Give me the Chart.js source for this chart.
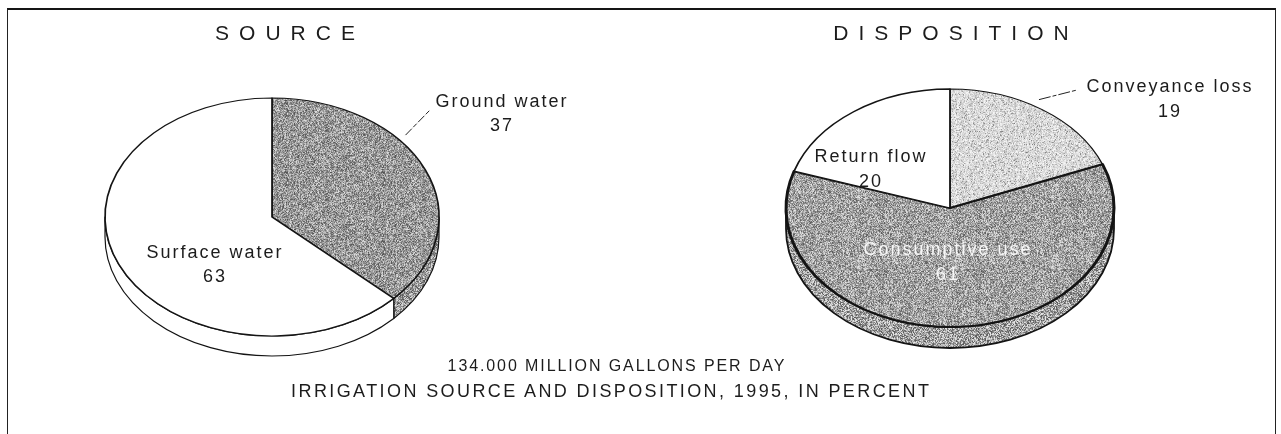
<!DOCTYPE html>
<html>
<head>
<meta charset="utf-8">
<title>Irrigation source and disposition, 1995</title>
<script src="https://cdn.jsdelivr.net/npm/chart.js@4/dist/chart.umd.min.js"></script>
<style>
  html, body { margin: 0; padding: 0; background: #fff; }
  #stage { position: relative; width: 1281px; height: 434px; overflow: hidden; background: #fff; }
  #frame { position: absolute; left: 7px; top: 8px; width: 1267px; height: 520px;
           border-top: 2px solid #151515; border-left: 1.5px solid #222; border-right: 1.5px solid #222; }
  canvas { position: absolute; top: 0; }
  .t { position: absolute; white-space: nowrap; line-height: 1; color: #1c1c1c;
       font-family: "Liberation Sans", Arial, Helvetica, sans-serif;
       transform: translate(-50%, -50%); }
  .title { font-size: 21px; letter-spacing: 10px; padding-left: 10px; }
  .note { font-size: 16px; letter-spacing: 1.9px; padding-left: 1.9px; }
  .caption { font-size: 18px; letter-spacing: 2.4px; padding-left: 2.4px; }
</style>
</head>
<body>
<div id="stage">
  <div id="frame"></div>
  <canvas id="sourceChart" width="640" height="434" style="left:0"></canvas>
  <canvas id="dispositionChart" width="641" height="434" style="left:640px"></canvas>
  <div class="t title" id="titleSource" style="left:285px; top:32px"></div>
  <div class="t title" id="titleDisposition" style="left:951px; top:32px"></div>
  <div class="t note" id="note" style="left:616px; top:366px"></div>
  <div class="t caption" id="caption" style="left:610px; top:391px"></div>
</div>
<script>
// ---- values (percent) ----
const sourceLabels = ['Ground water', 'Surface water'];
const sourceValues = [37, 63];
const dispositionLabels = ['Conveyance loss', 'Consumptive use', 'Return flow'];
const dispositionValues = [19, 61, 20];
const chartTitles = ['SOURCE', 'DISPOSITION'];
const totalNote = '134.000 MILLION GALLONS PER DAY';
const captionText = 'IRRIGATION SOURCE AND DISPOSITION, 1995, IN PERCENT';

document.getElementById('titleSource').textContent = chartTitles[0];
document.getElementById('titleDisposition').textContent = chartTitles[1];
document.getElementById('note').textContent = totalNote;
document.getElementById('caption').textContent = captionText;

// ---- stipple textures (deterministic hash noise) ----
function hash(x, y, s) {
  let h = Math.imul(x, 374761393) + Math.imul(y, 668265263) + Math.imul(s, 2246822519);
  h = Math.imul(h ^ (h >>> 13), 1274126177);
  h ^= h >>> 16;
  return (h >>> 0) / 4294967296;
}
function stipple(seed, mean, spread, darkDots) {
  const size = 97;
  const c = document.createElement('canvas');
  c.width = size; c.height = size;
  const g = c.getContext('2d');
  const img = g.createImageData(size, size);
  for (let y = 0; y < size; y++) {
    for (let x = 0; x < size; x++) {
      const r = hash(x, y, seed);
      let v = mean + (r - 0.5) * spread;
      if (darkDots && hash(x, y, seed + 7) < darkDots) v -= 70;
      v = Math.max(30, Math.min(250, v));
      const i = (y * size + x) * 4;
      img.data[i] = img.data[i + 1] = img.data[i + 2] = v;
      img.data[i + 3] = 255;
    }
  }
  g.putImageData(img, 0, 0);
  return g.createPattern(c, 'repeat');
}
const darkStipple = stipple(3, 154, 150, 0);
const darkStipple2 = stipple(11, 162, 150, 0);
const lightStipple = stipple(5, 222, 60, 0.12);

// ---- tilted pie with side wall ----
const tiltedPie = {
  id: 'tiltedPie',
  beforeDatasetsDraw(chart, args, opts) {
    const ctx = chart.ctx;
    const meta = chart.getDatasetMeta(0);
    const c = meta.data[0].getProps(['x', 'y', 'outerRadius'], true);
    const R = c.outerRadius, k = opts.tilt, d = opts.depth;
    meta.data.forEach((arc) => {
      const p = arc.getProps(['startAngle', 'endAngle'], true);
      const a0 = Math.max(p.startAngle, 0), a1 = Math.min(p.endAngle, Math.PI);
      if (a1 <= a0) return;
      ctx.save();
      ctx.beginPath();
      ctx.ellipse(c.x, c.y, R, R * k, 0, a0, a1);
      ctx.lineTo(c.x + R * Math.cos(a1), c.y + R * k * Math.sin(a1) + d);
      ctx.ellipse(c.x, c.y + d, R, R * k, 0, a1, a0, true);
      ctx.closePath();
      ctx.fillStyle = arc.options.backgroundColor;
      ctx.fill();
      ctx.lineJoin = 'round';
      ctx.lineWidth = opts.wallLine;
      ctx.strokeStyle = '#141414';
      ctx.stroke();
      ctx.restore();
    });
    ctx.save();
    ctx.translate(c.x, c.y);
    ctx.scale(1, k);
    ctx.translate(-c.x, -c.y);
  },
  afterDatasetsDraw(chart) {
    chart.ctx.restore();
  }
};

// ---- slice labels and leader lines ----
const sliceLabels = {
  id: 'sliceLabels',
  afterDraw(chart, args, opts) {
    const ctx = chart.ctx;
    const meta = chart.getDatasetMeta(0);
    const c = meta.data[0].getProps(['x', 'y', 'outerRadius'], true);
    const labels = chart.data.labels;
    const values = chart.data.datasets[0].data;
    ctx.save();
    ctx.font = opts.font;
    ctx.letterSpacing = opts.letterSpacing;
    ctx.textAlign = 'center';
    ctx.textBaseline = 'alphabetic';
    opts.items.forEach((it) => {
      ctx.fillStyle = it.color || '#1c1c1c';
      const base = 0.358 * opts.size;
      ctx.fillText(labels[it.index], it.x, it.y + base);
      ctx.fillText(String(values[it.index]), it.x, it.y + opts.lineGap + base);
      if (it.leader) {
        const arc = meta.data[it.index].getProps(['startAngle', 'endAngle'], true);
        const a = arc.startAngle + it.leader.t * (arc.endAngle - arc.startAngle);
        const r = c.outerRadius * it.leader.r;
        const sx = c.x + r * Math.cos(a);
        const sy = c.y + r * opts.tilt * Math.sin(a);
        ctx.beginPath();
        ctx.setLineDash(it.leader.dash);
        ctx.lineWidth = 1;
        ctx.strokeStyle = '#222';
        ctx.moveTo(sx, sy);
        ctx.lineTo(it.leader.to[0], it.leader.to[1]);
        ctx.stroke();
        ctx.setLineDash([]);
      }
    });
    ctx.restore();
  }
};

Chart.register(tiltedPie, sliceLabels);

const common = {
  responsive: false,
  animation: false,
  events: [],
  plugins: { legend: { display: false }, tooltip: { enabled: false }, title: { display: false } }
};

new Chart(document.getElementById('sourceChart'), {
  type: 'pie',
  data: {
    labels: sourceLabels,
    datasets: [{
      data: sourceValues,
      backgroundColor: [darkStipple, '#ffffff'],
      borderColor: '#141414',
      borderWidth: 1.7,
      hoverBorderWidth: 1.7,
      borderJoinStyle: 'round'
    }]
  },
  options: {
    ...common,
    radius: 167,
    layout: { padding: { left: 0, right: 96, top: 0, bottom: 0 } },
    plugins: {
      ...common.plugins,
      tiltedPie: { tilt: 119 / 167, depth: 20, wallLine: 1.2 },
      sliceLabels: {
        font: '18px "Liberation Sans", Arial, sans-serif', size: 18, letterSpacing: '2px',
        lineGap: 24, tilt: 119 / 167,
        items: [
          { index: 0, x: 502, y: 101, leader: { t: 0.37, r: 1.055, to: [430, 110], dash: [9, 2, 5, 2] } },
          { index: 1, x: 215, y: 252 }
        ]
      }
    }
  }
});

new Chart(document.getElementById('dispositionChart'), {
  type: 'pie',
  data: {
    labels: dispositionLabels,
    datasets: [{
      data: dispositionValues,
      backgroundColor: [lightStipple, darkStipple2, '#ffffff'],
      borderColor: '#141414',
      borderWidth: [1.4, 3, 1.8],
      hoverBorderWidth: [1.4, 3, 1.8],
      borderJoinStyle: 'round'
    }]
  },
  options: {
    ...common,
    radius: 164,
    layout: { padding: { left: 0, right: 21, top: 0, bottom: 18 } },
    plugins: {
      ...common.plugins,
      tiltedPie: { tilt: 119 / 164, depth: 21, wallLine: 1.8 },
      sliceLabels: {
        font: '18px "Liberation Sans", Arial, sans-serif', size: 18, letterSpacing: '2px',
        lineGap: 25, tilt: 119 / 164,
        items: [
          { index: 0, x: 530, y: 86, leader: { t: 0.45, r: 1.06, to: [437, 90], dash: [12, 2, 4, 2] } },
          { index: 1, x: 308, y: 249, color: '#f6f6f6' },
          { index: 2, x: 231, y: 156 }
        ]
      }
    }
  }
});
</script>
</body>
</html>
